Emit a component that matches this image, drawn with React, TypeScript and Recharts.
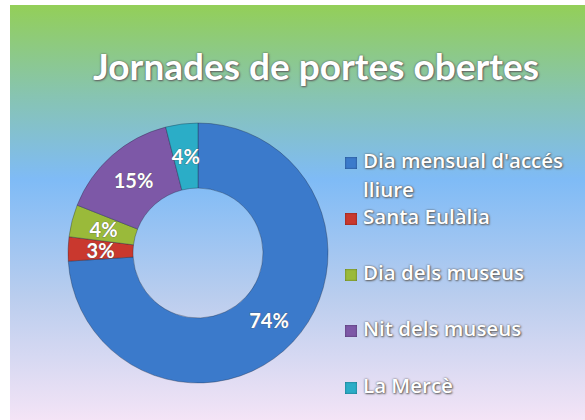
import { PieChart, Pie, Cell, Legend } from "recharts";

const categories = [
  "Dia mensual d'accés lliure",
  "Santa Eulàlia",
  "Dia dels museus",
  "Nit dels museus",
  "La Mercè",
];
const shares = [74, 3, 4, 15, 4];
const colors = ["#3b7acb", "#c9382e", "#9aba3a", "#7d58a7", "#2badc7"];

const data = categories.map((name, i) => ({ name, value: shares[i] }));

const RAD = Math.PI / 180;
const font = "Lato, 'Open Sans', sans-serif";
const legendFont = "'Open Sans', sans-serif";
const glow = "0 0 2px #555, 1px 1px 2px #666";

const renderLabel = (props: any) => {
  const { cx, cy, midAngle, innerRadius, outerRadius, percent } = props;
  const r = (innerRadius + outerRadius) / 2;
  const x = cx + r * Math.cos(-midAngle * RAD);
  const y = cy + r * Math.sin(-midAngle * RAD);
  return (
    <text
      x={x}
      y={y}
      fill="#fff"
      textAnchor="middle"
      dominantBaseline="central"
      fontFamily={font}
      fontWeight="bold"
      fontSize={20}
      stroke="#555"
      strokeWidth={0.6}
      paintOrder="stroke"
    >
      {Math.round(percent * 100)}%
    </text>
  );
};

const rowTops = [144, 200, 256, 312, 369];

const LegendBox = () => (
  <div style={{ position: "relative", width: 240, height: 260 }}>
    {data.map((d, i) => (
      <div
        key={d.name}
        style={{
          position: "absolute",
          top: rowTops[i] - 142,
          left: 0,
          display: "flex",
          alignItems: "flex-start",
          width: 240,
        }}
      >
        <span
          style={{
            display: "inline-block",
            width: 12,
            height: 12,
            marginTop: 8,
            marginRight: 6,
            background: colors[i],
            boxShadow: "inset 0 0 2px rgba(0,0,0,0.5)",
            flexShrink: 0,
          }}
        />
        <span
          style={{
            color: "#fff",
            fontFamily: legendFont,
            fontSize: 20.5,
            fontWeight: 600,
            lineHeight: "29px",
            marginTop: -3,
            textShadow: glow,
            width: 220,
            textAlign: "left",
          }}
        >
          {d.name}
        </span>
      </div>
    ))}
  </div>
);

export default function App() {
  return (
    <div
      style={{
        position: "absolute",
        left: 10,
        top: 5,
        width: 575,
        height: 415,
        background:
          "linear-gradient(to bottom, #93cf58 0%, #87c4b2 22%, #7fbbf6 42%, #b9cdee 70%, #f4e4f6 100%)",
      }}
    >
      <div
        style={{
          position: "absolute",
          left: 0,
          width: 612,
          top: 38,
          textAlign: "center",
          color: "#fff",
          fontFamily: font,
          fontWeight: "bold",
          fontSize: 37,
          textShadow: glow,
        }}
      >
        Jornades de portes obertes
      </div>
      <PieChart width={575} height={415} margin={{ top: 0, right: 0, bottom: 0, left: 0 }}>
        <Pie
          data={data}
          dataKey="value"
          nameKey="name"
          cx={188}
          cy={248}
          innerRadius={65}
          outerRadius={130}
          startAngle={90}
          endAngle={-270}
          stroke="rgba(30,40,60,0.35)"
          strokeWidth={1}
          label={renderLabel}
          labelLine={false}
          isAnimationActive={false}
        >
          {data.map((d, i) => (
            <Cell key={d.name} fill={colors[i]} />
          ))}
        </Pie>
        <Legend
          content={<LegendBox />}
          layout="vertical"
          verticalAlign="middle"
          align="center"
          wrapperStyle={{ left: 335, top: 142, width: 240 }}
        />
      </PieChart>
    </div>
  );
}
